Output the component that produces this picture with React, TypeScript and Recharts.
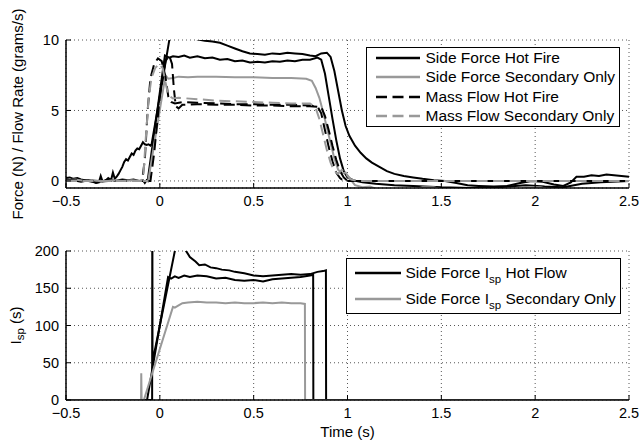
import React from 'react';
import { LineChart, Line, XAxis, YAxis, CartesianGrid, Legend } from 'recharts';

type Pt = [number, number];

const xTicks = [-0.5, 0, 0.5, 1, 1.5, 2, 2.5];
const forceTicks = [0, 5, 10];
const ispTicks = [0, 50, 100, 150, 200];

const forceLegend = ['Side Force Hot Fire', 'Side Force Secondary Only', 'Mass Flow Hot Fire', 'Mass Flow Secondary Only'];
const ispLegend = [['Side Force I', 'sp', ' Hot Flow'], ['Side Force I', 'sp', ' Secondary Only']];

// side force, hot fire (two runs), N
const sideForceHot1: Pt[] = [
  [-0.5, 0.2], [-0.48, 0.25], [-0.46, 0.15], [-0.44, 0.2], [-0.42, 0.1], [-0.4, 0.05], [-0.38, 0.0], [-0.36, -0.05],
  [-0.34, -0.15], [-0.325, -0.1], [-0.315, 0.35], [-0.305, -0.05], [-0.29, 0.0], [-0.275, 0.2], [-0.26, 0.05],
  [-0.25, 0.6], [-0.24, 0.15], [-0.23, 0.3], [-0.22, 0.5], [-0.21, 0.75], [-0.2, 1.0], [-0.19, 1.35], [-0.18, 1.55],
  [-0.17, 1.45], [-0.16, 1.7], [-0.15, 1.95], [-0.14, 1.85], [-0.13, 2.15], [-0.12, 2.3], [-0.11, 2.25], [-0.1, 2.5],
  [-0.09, 2.75], [-0.08, 2.6], [-0.07, 2.55], [-0.06, 2.6], [-0.05, 2.5], [-0.044, 2.6], [0.0, 6.0], [0.053, 10.2],
  [0.08, 11.3], [0.12, 11.6], [0.16, 10.9], [0.2, 10.05], [0.24, 9.95], [0.28, 9.9], [0.32, 9.8], [0.36, 9.6],
  [0.4, 9.4], [0.44, 9.2], [0.48, 9.05], [0.52, 9.0], [0.56, 8.95], [0.6, 9.05], [0.64, 9.0], [0.68, 9.1],
  [0.72, 9.05], [0.76, 9.0], [0.8, 8.9], [0.83, 8.85], [0.86, 9.05], [0.89, 9.1], [0.91, 8.8], [0.93, 7.8],
  [0.95, 6.4], [0.97, 5.0], [0.99, 3.9], [1.01, 3.2], [1.04, 2.5], [1.07, 2.0], [1.1, 1.6], [1.13, 1.3],
  [1.17, 1.0], [1.21, 0.7], [1.25, 0.5], [1.3, 0.35], [1.35, 0.25], [1.4, 0.15], [1.46, 0.05], [1.52, 0.0],
  [1.58, -0.15], [1.64, -0.3], [1.7, -0.35], [1.78, -0.4], [1.85, -0.35], [1.92, -0.15], [1.98, 0.0], [2.04, -0.05],
  [2.1, -0.25], [2.15, -0.35], [2.19, -0.1], [2.22, 0.3], [2.26, 0.3], [2.3, 0.4], [2.34, 0.35], [2.38, 0.45],
  [2.42, 0.4], [2.46, 0.35], [2.5, 0.3],
];
const sideForceHot2: Pt[] = [
  [-0.5, 0.0], [-0.46, 0.05], [-0.42, -0.05], [-0.38, 0.05], [-0.34, -0.1], [-0.3, 0.0], [-0.27, 0.15], [-0.24, 0.0],
  [-0.2, 0.1], [-0.17, 0.05], [-0.14, 0.1], [-0.11, 0.0], [-0.09, 0.05], [-0.08, -0.15], [-0.07, 0.05], [-0.065, 0.0],
  [0.027, 8.9], [0.05, 8.75], [0.07, 8.85], [0.1, 8.8], [0.13, 8.9], [0.16, 8.75], [0.2, 8.85], [0.24, 8.7],
  [0.28, 8.75], [0.32, 8.6], [0.36, 8.65], [0.4, 8.5], [0.44, 8.55], [0.48, 8.4], [0.52, 8.45], [0.56, 8.4],
  [0.6, 8.5], [0.64, 8.45], [0.68, 8.55], [0.72, 8.5], [0.76, 8.6], [0.8, 8.6], [0.84, 8.75], [0.86, 8.6],
  [0.88, 7.6], [0.9, 6.0], [0.92, 4.4], [0.94, 2.9], [0.96, 1.6], [0.98, 0.7], [1.0, 0.25], [1.03, 0.05],
  [1.08, -0.1], [1.15, -0.2], [1.25, -0.3], [1.35, -0.35], [1.5, -0.45], [1.65, -0.5], [1.8, -0.45], [1.95, -0.3],
  [2.05, -0.4], [2.15, -0.45], [2.25, -0.2], [2.35, -0.1], [2.5, 0.0],
];
// side force, secondary only
const sideForceSec: Pt[] = [
  [-0.5, 0.05], [-0.45, 0.1], [-0.4, 0.0], [-0.35, 0.05], [-0.3, -0.05], [-0.25, 0.05], [-0.2, 0.0], [-0.15, 0.05],
  [-0.1, 0.0], [-0.062, 0.0], [0.03, 7.5], [0.045, 7.25], [0.07, 7.3], [0.1, 7.4], [0.15, 7.35], [0.2, 7.4],
  [0.3, 7.4], [0.4, 7.35], [0.5, 7.35], [0.6, 7.3], [0.7, 7.3], [0.78, 7.25], [0.81, 7.1], [0.83, 6.6],
  [0.85, 5.9], [0.87, 4.9], [0.89, 3.8], [0.91, 2.7], [0.93, 1.6], [0.95, 0.8], [0.97, 0.55], [0.99, 0.6],
  [1.01, 0.2], [1.04, -0.3], [1.08, -0.45], [1.12, -0.4], [1.16, -0.6], [1.25, -0.75], [1.35, -0.6], [1.4, -0.45],
  [1.46, -0.45], [1.52, -0.65], [1.7, -0.8], [1.9, -0.65], [1.97, -0.45], [2.03, -0.45], [2.09, -0.65], [2.3, -0.75],
  [2.5, -0.7],
];
// mass flow, grams/s
const massFlowHot1: Pt[] = [
  [-0.5, 0.05], [-0.3, 0.0], [-0.095, 0.0], [-0.08, 1.5], [-0.065, 5.0], [-0.05, 7.3], [-0.03, 8.3], [-0.01, 8.7],
  [0.01, 8.5], [0.03, 7.4], [0.045, 6.0], [0.06, 5.6], [0.08, 5.5], [0.12, 5.6], [0.2, 5.55], [0.3, 5.5],
  [0.4, 5.45], [0.5, 5.45], [0.6, 5.4], [0.7, 5.4], [0.8, 5.35], [0.84, 5.3], [0.86, 4.8], [0.88, 3.6],
  [0.9, 2.4], [0.92, 1.4], [0.94, 0.6], [0.96, 0.2], [0.98, 0.0], [2.5, 0.0],
];
const massFlowHot2: Pt[] = [
  [-0.5, 0.0], [-0.05, 0.0], [-0.03, 2.0], [0.0, 6.0], [0.03, 8.5], [0.05, 8.9], [0.065, 8.3], [0.075, 6.5],
  [0.085, 5.3], [0.1, 5.15], [0.12, 5.4], [0.2, 5.45], [0.3, 5.4], [0.4, 5.4], [0.5, 5.35], [0.6, 5.35],
  [0.7, 5.3], [0.8, 5.3], [0.86, 5.25], [0.88, 4.6], [0.9, 3.6], [0.92, 2.5], [0.94, 1.5], [0.96, 0.7],
  [0.98, 0.25], [1.0, 0.0], [2.5, 0.0],
];
const massFlowSec: Pt[] = [
  [-0.5, 0.0], [-0.1, 0.0], [-0.088, 0.3], [-0.075, 3.0], [-0.06, 5.8], [-0.045, 7.3], [-0.025, 8.0], [-0.005, 8.3],
  [0.015, 8.0], [0.03, 7.0], [0.045, 6.1], [0.07, 5.85], [0.1, 5.9], [0.2, 5.8], [0.3, 5.7], [0.4, 5.65],
  [0.5, 5.6], [0.6, 5.55], [0.7, 5.5], [0.8, 5.5], [0.83, 5.2], [0.85, 4.4], [0.87, 3.3], [0.89, 2.2],
  [0.91, 1.3], [0.93, 0.7], [0.95, 0.5], [0.97, 0.8], [0.99, 0.5], [1.02, 0.1], [1.05, 0.0], [2.5, 0.0],
];

// Isp, s
const ispHot1: Pt[] = [
  [-0.5, 0], [-0.041, 0], [-0.04, 320], [-0.039, 51], [0.08, 200], [0.1, 240], [0.12, 225], [0.14, 200],
  [0.16, 192], [0.19, 186], [0.21, 181], [0.24, 182], [0.27, 178], [0.3, 177], [0.33, 175], [0.37, 174],
  [0.4, 172], [0.45, 170], [0.5, 167], [0.55, 166], [0.6, 167], [0.65, 168], [0.7, 169], [0.75, 168],
  [0.8, 169], [0.84, 172], [0.87, 173], [0.885, 174], [0.886, 0], [2.5, 0],
];
const ispHot2: Pt[] = [
  [-0.5, 0], [-0.068, 0], [0.044, 165], [0.06, 163], [0.08, 166], [0.1, 164], [0.13, 167], [0.16, 165],
  [0.2, 167], [0.25, 166], [0.3, 163], [0.35, 164], [0.4, 161], [0.45, 160], [0.5, 161], [0.55, 159],
  [0.6, 162], [0.65, 163], [0.7, 164], [0.75, 165], [0.8, 167], [0.817, 168], [0.818, 0], [2.5, 0],
];
const ispSec: Pt[] = [
  [-0.5, 0], [-0.1, 0], [-0.099, 36], [-0.097, 0], [-0.085, 0], [0.07, 125], [0.08, 124], [0.1, 127],
  [0.12, 130], [0.15, 131], [0.2, 132], [0.25, 131], [0.3, 131], [0.35, 130], [0.4, 131], [0.45, 130],
  [0.5, 130], [0.55, 131], [0.6, 130], [0.65, 131], [0.7, 130], [0.75, 130], [0.773, 129], [0.774, 0], [2.5, 0],
];

const BLACK = '#000';
const GRAY = '#999';
const DASH = '11 5.5';
const FONT = '"Liberation Sans", Arial, Helvetica, sans-serif';

const toPts = (arr: Pt[]) => arr.map(([t, v]) => ({ t, v }));

const fmt = (v: number) => (v < 0 ? `\u2212${Math.abs(v)}` : String(v));

const forceSeries = [
  { name: 'sfHot1', data: sideForceHot1, stroke: BLACK, dash: undefined },
  { name: 'sfHot2', data: sideForceHot2, stroke: BLACK, dash: undefined },
  { name: 'sfSec', data: sideForceSec, stroke: GRAY, dash: undefined },
  { name: 'mfHot1', data: massFlowHot1, stroke: BLACK, dash: DASH },
  { name: 'mfHot2', data: massFlowHot2, stroke: BLACK, dash: DASH },
  { name: 'mfSec', data: massFlowSec, stroke: GRAY, dash: DASH },
];
const forceLegendStyle = [
  { stroke: BLACK, dash: undefined },
  { stroke: GRAY, dash: undefined },
  { stroke: BLACK, dash: DASH },
  { stroke: GRAY, dash: DASH },
];
const ispSeries = [
  { name: 'ispHot1', data: ispHot1, stroke: BLACK },
  { name: 'ispHot2', data: ispHot2, stroke: BLACK },
  { name: 'ispSec', data: ispSec, stroke: GRAY },
];

const tickStyle = { fill: '#000', fontSize: 14.5, fontFamily: FONT };
const axisLine = { stroke: '#000', strokeWidth: 1.5 };
const tickLine = { stroke: '#000', strokeWidth: 1 };

const Sample = ({ stroke, dash, w }: { stroke: string; dash?: string; w: number }) => (
  <svg width={w} height={6} style={{ display: 'block', flex: 'none' }}>
    <line x1={0} y1={3} x2={w} y2={3} stroke={stroke} strokeWidth={2.4} strokeDasharray={dash} />
  </svg>
);

const ForceLegend = () => (
  <div style={{ border: '1.5px solid #000', background: '#fff', width: 252, height: 78, fontFamily: FONT, fontSize: 15.5 }}>
    {forceLegend.map((label, i) => (
      <div key={label} style={{ display: 'flex', alignItems: 'center', height: 19.5 }}>
        <div style={{ marginLeft: 8.5, marginRight: 6 }}>
          <Sample stroke={forceLegendStyle[i].stroke} dash={forceLegendStyle[i].dash} w={44} />
        </div>
        <span style={{ whiteSpace: 'nowrap', color: '#000' }}>{label}</span>
      </div>
    ))}
  </div>
);

const IspLegend = () => (
  <div style={{ border: '1.5px solid #000', background: '#fff', width: 273, height: 54, fontFamily: FONT, fontSize: 15.5 }}>
    {ispLegend.map((parts, i) => (
      <div key={i} style={{ display: 'flex', alignItems: 'center', height: 26, marginTop: i === 0 ? 1 : 0 }}>
        <div style={{ marginLeft: 7.5, marginRight: 5 }}>
          <Sample stroke={i === 0 ? BLACK : GRAY} w={46} />
        </div>
        <span style={{ whiteSpace: 'nowrap', color: '#000' }}>
          {parts[0]}
          <span style={{ position: 'relative', top: 5, fontSize: 11.5 }}>{parts[1]}</span>
          {parts[2]}
        </span>
      </div>
    ))}
  </div>
);

const ForceLabel = (props: any) => {
  const vb = props.viewBox || {};
  const cx = 17;
  const cy = (vb.y ?? 40) + (vb.height ?? 148) / 2;
  return (
    <text x={cx} y={cy} transform={`rotate(-90 ${cx} ${cy})`} textAnchor="middle" dominantBaseline="central"
      fontFamily={FONT} fontSize={15} fill="#000">
      Force (N) / Flow Rate (grams/s)
    </text>
  );
};

const IspLabel = (props: any) => {
  const vb = props.viewBox || {};
  const cx = 15;
  const cy = (vb.y ?? 21) + (vb.height ?? 149) / 2;
  return (
    <text x={cx} y={cy} transform={`rotate(-90 ${cx} ${cy})`} textAnchor="middle" dominantBaseline="central"
      fontFamily={FONT} fontSize={15} fill="#000">
      I<tspan dy={5} fontSize={11.5}>sp</tspan><tspan dy={-5}> (s)</tspan>
    </text>
  );
};

const App = () => (
  <div style={{ position: 'absolute', left: 0, top: 0, width: 639, height: 444, background: '#fff' }}>
    <div style={{ position: 'absolute', left: 0, top: 0 }}>
      <LineChart width={639} height={232} margin={{ top: 40, right: 10, bottom: 17, left: 0 }}>
        <CartesianGrid strokeDasharray="1 3" stroke="#444" strokeWidth={0.9} />
        <XAxis dataKey="t" type="number" domain={[-0.5, 2.5]} ticks={xTicks} allowDataOverflow
          height={27} tickSize={-5} tickMargin={12.5} tick={tickStyle} tickFormatter={fmt}
          axisLine={axisLine} tickLine={tickLine} />
        <XAxis xAxisId="top" orientation="top" type="number" domain={[-0.5, 2.5]} ticks={xTicks}
          height={0} tickSize={-5} tick={false} axisLine={axisLine} tickLine={tickLine} />
        <YAxis type="number" domain={[-0.5, 10]} ticks={forceTicks} allowDataOverflow width={66}
          tickSize={-5} tickMargin={12} tick={tickStyle} axisLine={axisLine} tickLine={tickLine}
          label={{ content: ForceLabel }} />
        <YAxis yAxisId="right" orientation="right" type="number" domain={[-0.5, 10]} ticks={forceTicks}
          width={0} tickSize={-5} tick={false} axisLine={axisLine} tickLine={tickLine} />
        {forceSeries.map((s) => (
          <Line key={s.name} data={toPts(s.data)} dataKey="v" type="linear" stroke={s.stroke}
            strokeWidth={2} strokeDasharray={s.dash} dot={false} isAnimationActive={false} />
        ))}
        <Legend layout="vertical" align="center" verticalAlign="middle"
          wrapperStyle={{ left: 366, top: 47, width: 255 }} content={() => <ForceLegend />} />
      </LineChart>
    </div>
    <div style={{ position: 'absolute', left: 0, top: 230 }}>
      <LineChart width={639} height={214} margin={{ top: 21, right: 10, bottom: 0, left: 0 }}>
        <CartesianGrid strokeDasharray="1 3" stroke="#444" strokeWidth={0.9} />
        <XAxis dataKey="t" type="number" domain={[-0.5, 2.5]} ticks={xTicks} allowDataOverflow
          height={44} tickSize={-5} tickMargin={12.5} tick={tickStyle} tickFormatter={fmt}
          axisLine={axisLine} tickLine={tickLine}
          label={{ value: 'Time (s)', position: 'insideBottom', offset: 7, fill: '#000', fontSize: 15, fontFamily: FONT }} />
        <XAxis xAxisId="top" orientation="top" type="number" domain={[-0.5, 2.5]} ticks={xTicks}
          height={0} tickSize={-5} tick={false} axisLine={axisLine} tickLine={tickLine} />
        <YAxis type="number" domain={[0, 200]} ticks={ispTicks} allowDataOverflow width={66}
          tickSize={-5} tickMargin={12} tick={tickStyle} axisLine={axisLine} tickLine={tickLine}
          label={{ content: IspLabel }} />
        <YAxis yAxisId="right" orientation="right" type="number" domain={[0, 200]} ticks={ispTicks}
          width={0} tickSize={-5} tick={false} axisLine={axisLine} tickLine={tickLine} />
        {ispSeries.map((s) => (
          <Line key={s.name} data={toPts(s.data)} dataKey="v" type="linear" stroke={s.stroke}
            strokeWidth={2} dot={false} isAnimationActive={false} />
        ))}
        <Legend layout="vertical" align="center" verticalAlign="middle"
          wrapperStyle={{ left: 346, top: 28, width: 276 }} content={() => <IspLegend />} />
      </LineChart>
    </div>
  </div>
);

export default App;
